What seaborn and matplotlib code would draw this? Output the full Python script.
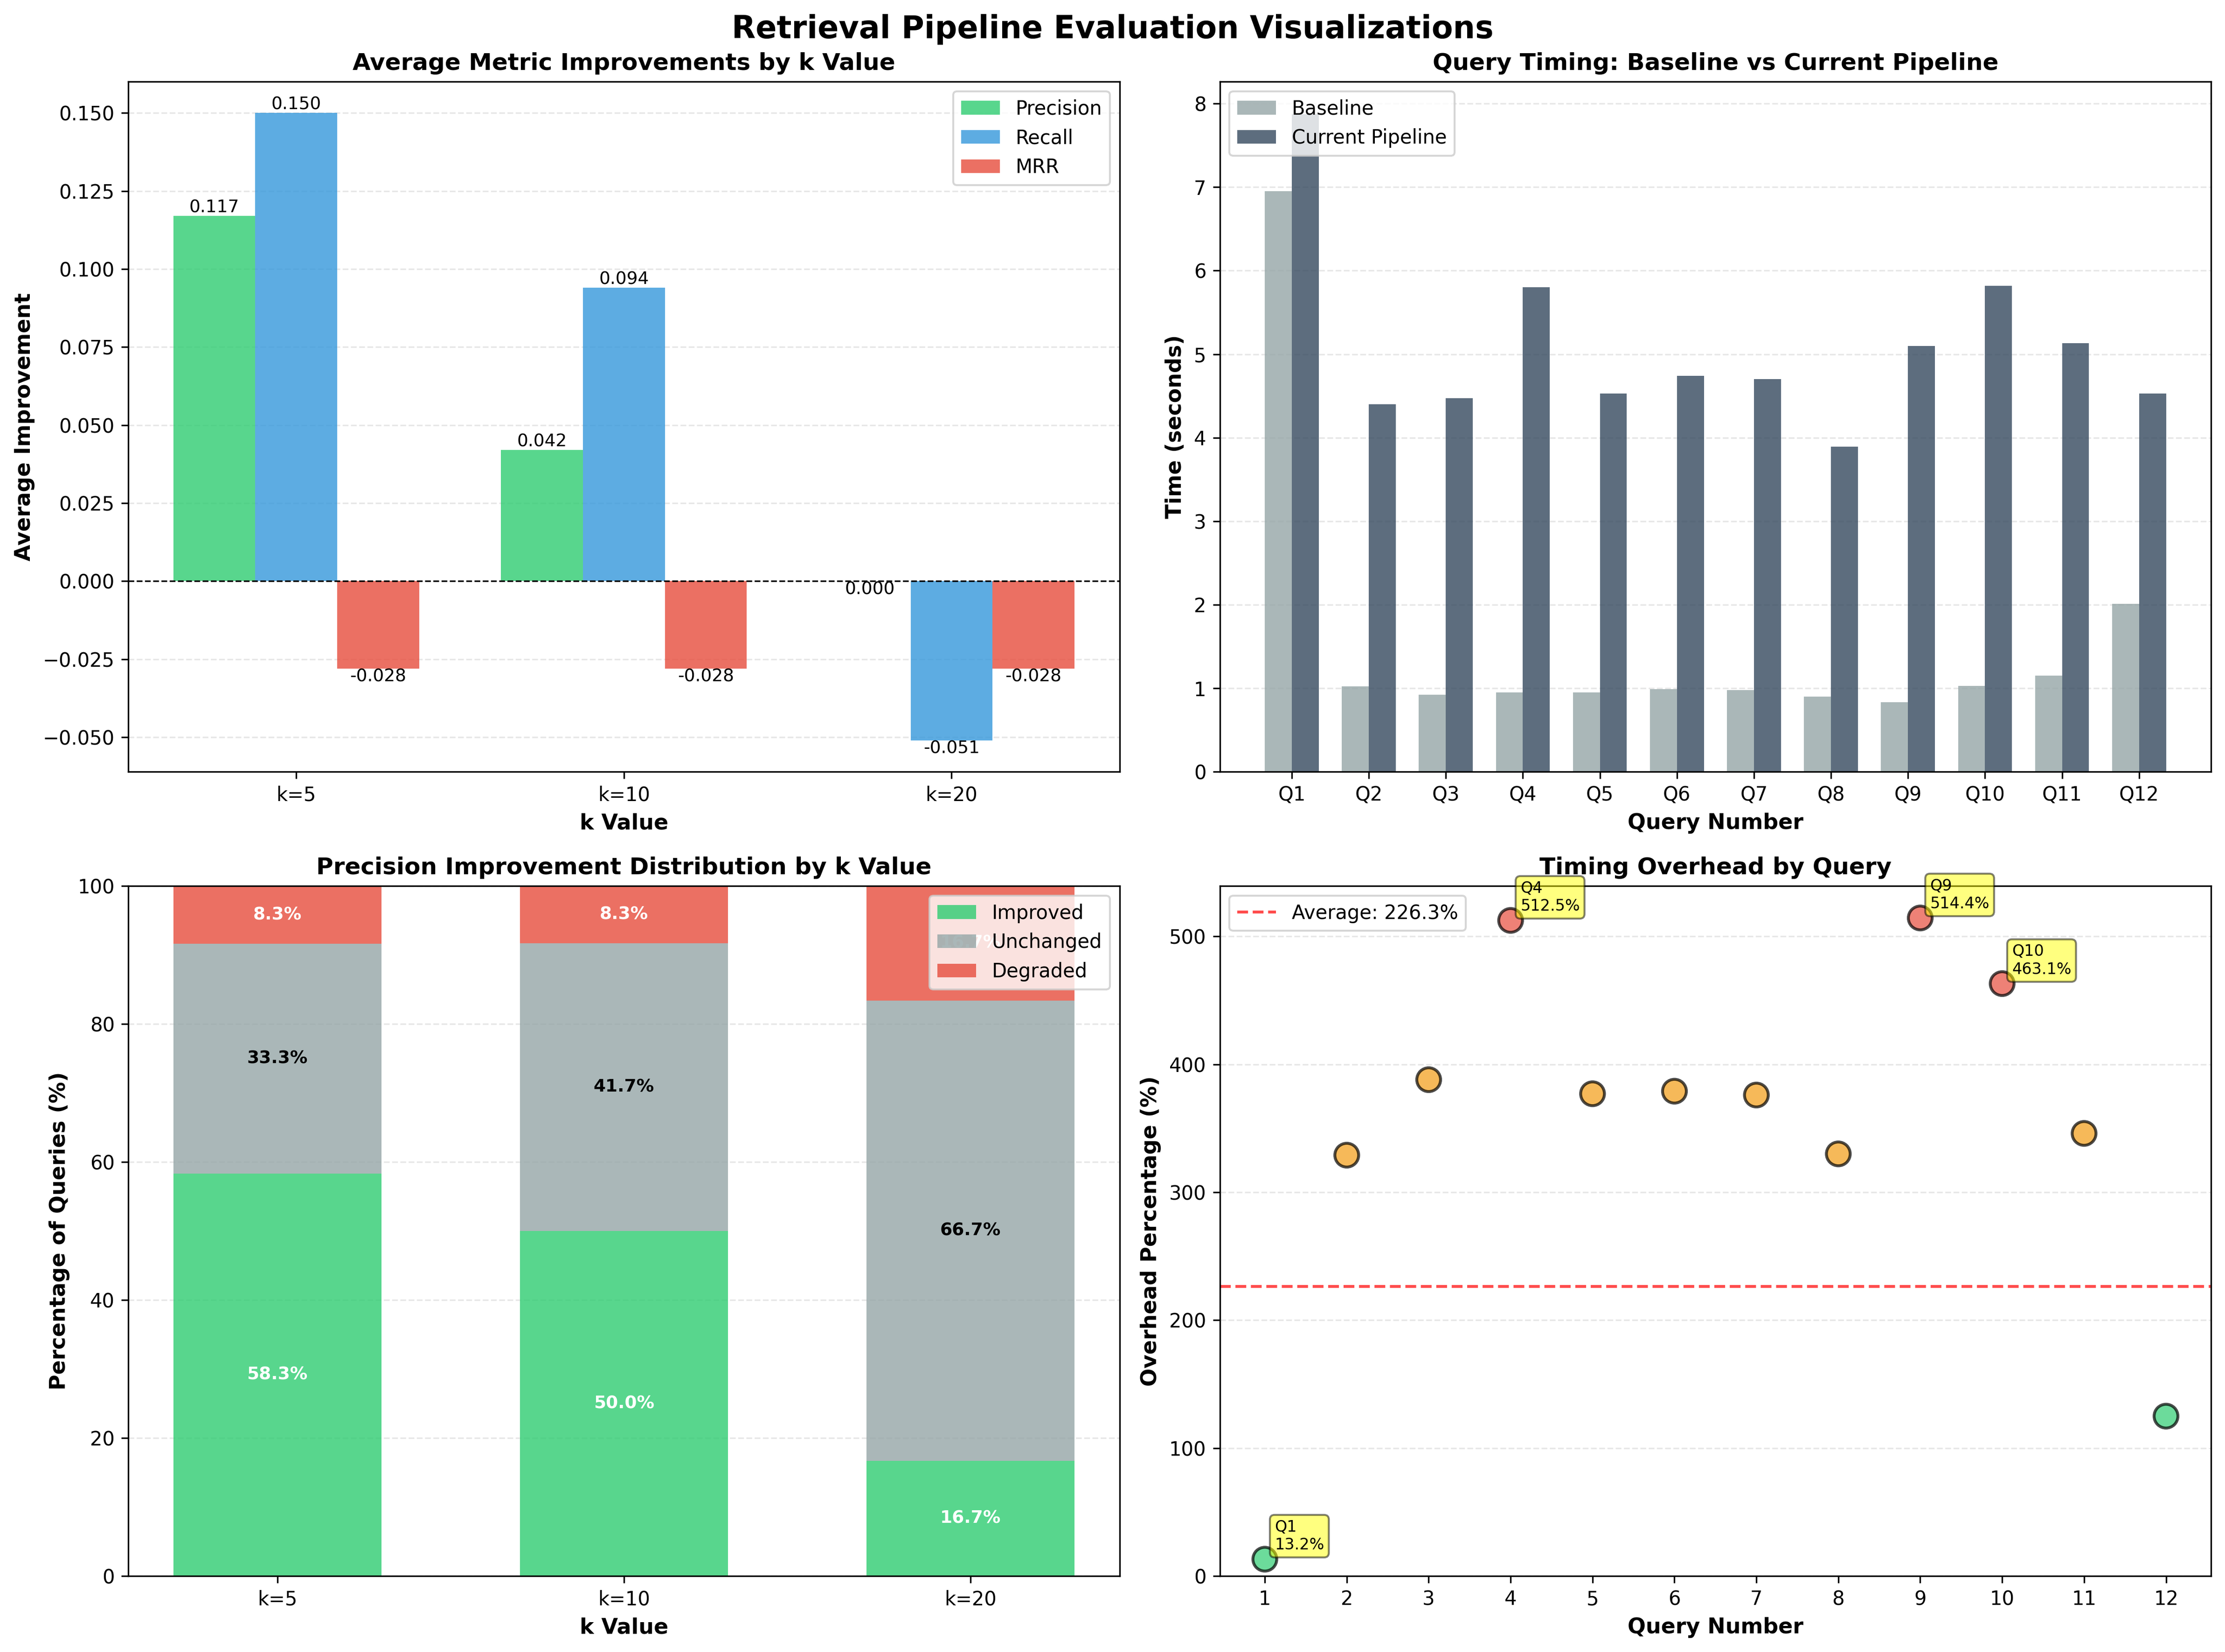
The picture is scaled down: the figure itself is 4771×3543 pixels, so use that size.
import pandas as pd
import seaborn as sns
import matplotlib.pyplot as plt
import numpy as np

# metric improvements per k
k_labels = ['k=5', 'k=10', 'k=20']
precision_imp = [0.117, 0.042, 0.000]
recall_imp = [0.150, 0.094, -0.051]
mrr_imp = [-0.028, -0.028, -0.028]

# query timings (seconds)
queries = ['Q1', 'Q2', 'Q3', 'Q4', 'Q5', 'Q6', 'Q7', 'Q8', 'Q9', 'Q10', 'Q11', 'Q12']
baseline_time = [6.95, 1.02, 0.92, 0.95, 0.95, 0.99, 0.98, 0.90, 0.83, 1.03, 1.15, 2.01]
current_time = [7.87, 4.40, 4.47, 5.80, 4.53, 4.74, 4.70, 3.89, 5.10, 5.82, 5.13, 4.53]

# precision distribution (%)
improved_pct = [58.3, 50.0, 16.7]
unchanged_pct = [33.3, 41.7, 66.7]
degraded_pct = [8.3, 8.3, 16.7]

# overhead per query (%)
query_num = [1, 2, 3, 4, 5, 6, 7, 8, 9, 10, 11, 12]
overhead_pct = [13.2, 329.0, 388.0, 512.5, 377.0, 379.0, 376.0, 330.0, 514.4, 463.1, 346.0, 125.0]
avg_overhead = 226.3

fig, axes = plt.subplots(2, 2, figsize=(16, 12))
fig.suptitle('Retrieval Pipeline Evaluation Visualizations', fontsize=16, fontweight='bold')

# 1 - average metric improvements
ax = axes[0, 0]
df_imp = pd.DataFrame({
    'k': k_labels * 3,
    'metric': ['Precision'] * 3 + ['Recall'] * 3 + ['MRR'] * 3,
    'value': precision_imp + recall_imp + mrr_imp,
})
sns.barplot(data=df_imp, x='k', y='value', hue='metric',
            palette=['#2ecc71', '#3498db', '#e74c3c'], alpha=0.8,
            saturation=1, width=0.75, errorbar=None, ax=ax)
ax.autoscale(enable=True, axis='x')
for cont in ax.containers:
    for bar in cont:
        h = bar.get_height()
        ax.text(bar.get_x() + bar.get_width() / 2, h, f'{h:.3f}',
                ha='center', va='bottom' if h > 0 else 'top', fontsize=9)
ax.axhline(0, color='black', linestyle='--', linewidth=0.8)
ax.set_title('Average Metric Improvements by k Value', fontsize=12, fontweight='bold')
ax.set_xlabel('k Value', fontsize=11, fontweight='bold')
ax.set_ylabel('Average Improvement', fontsize=11, fontweight='bold')
ax.grid(axis='y', alpha=0.3, linestyle='--')
ax.set_axisbelow(True)
sns.move_legend(ax, 'upper right', title=None)

# 2 - query timing
ax = axes[0, 1]
df_time = pd.DataFrame({
    'query': queries * 2,
    'pipeline': ['Baseline'] * 12 + ['Current Pipeline'] * 12,
    'time': baseline_time + current_time,
})
sns.barplot(data=df_time, x='query', y='time', hue='pipeline',
            palette=['#95a5a6', '#34495e'], alpha=0.8,
            saturation=1, width=0.7, errorbar=None, ax=ax)
ax.autoscale(enable=True, axis='x')
ax.set_title('Query Timing: Baseline vs Current Pipeline', fontsize=12, fontweight='bold')
ax.set_xlabel('Query Number', fontsize=11, fontweight='bold')
ax.set_ylabel('Time (seconds)', fontsize=11, fontweight='bold')
ax.grid(axis='y', alpha=0.3, linestyle='--')
ax.set_axisbelow(True)
sns.move_legend(ax, 'upper left', title=None)

# 3 - precision distribution (stacked)
ax = axes[1, 0]
x = np.arange(len(k_labels))
imp = np.array(improved_pct)
unc = np.array(unchanged_pct)
deg = np.array(degraded_pct)
ax.bar(x, imp, 0.6, label='Improved', color='#2ecc71', alpha=0.8)
ax.bar(x, unc, 0.6, bottom=imp, label='Unchanged', color='#95a5a6', alpha=0.8)
ax.bar(x, deg, 0.6, bottom=imp + unc, label='Degraded', color='#e74c3c', alpha=0.8)
for i in range(len(x)):
    ax.text(x[i], imp[i] / 2, f'{imp[i]:.1f}%', ha='center', va='center',
            color='white', fontweight='bold', fontsize=9)
    ax.text(x[i], imp[i] + unc[i] / 2, f'{unc[i]:.1f}%', ha='center', va='center',
            color='black', fontweight='bold', fontsize=9)
    ax.text(x[i], imp[i] + unc[i] + deg[i] / 2, f'{deg[i]:.1f}%', ha='center', va='center',
            color='white', fontweight='bold', fontsize=9)
ax.set_xticks(x)
ax.set_xticklabels(k_labels)
ax.set_ylim(0, 100)
ax.set_title('Precision Improvement Distribution by k Value', fontsize=12, fontweight='bold')
ax.set_xlabel('k Value', fontsize=11, fontweight='bold')
ax.set_ylabel('Percentage of Queries (%)', fontsize=11, fontweight='bold')
ax.legend(loc='upper right')
ax.grid(axis='y', alpha=0.3, linestyle='--')
ax.set_axisbelow(True)

# 4 - overhead scatter
ax = axes[1, 1]
df_over = pd.DataFrame({'query': query_num, 'overhead': overhead_pct})
df_over['level'] = np.where(df_over['overhead'] > 450, 'high',
                            np.where(df_over['overhead'] > 200, 'mid', 'low'))
sns.scatterplot(data=df_over, x='query', y='overhead', hue='level',
                palette={'low': '#2ecc71', 'mid': '#f39c12', 'high': '#e74c3c'},
                s=150, alpha=0.7, edgecolor='black', linewidth=1.5,
                legend=False, ax=ax, zorder=3)
ax.axhline(avg_overhead, color='red', linestyle='--', alpha=0.7,
           label=f'Average: {avg_overhead:.1f}%')
for q, o in zip(query_num, overhead_pct):
    if o > 450 or o < 50:
        ax.annotate(f'Q{q}\n{o:.1f}%', (q, o), xytext=(5, 5), textcoords='offset points',
                    fontsize=8, bbox=dict(boxstyle='round,pad=0.3', facecolor='yellow', alpha=0.5))
ax.set_xticks(query_num)
ax.set_ylim(bottom=0)
ax.set_title('Timing Overhead by Query', fontsize=12, fontweight='bold')
ax.set_xlabel('Query Number', fontsize=11, fontweight='bold')
ax.set_ylabel('Overhead Percentage (%)', fontsize=11, fontweight='bold')
ax.legend(loc='upper left')
ax.grid(axis='y', alpha=0.3, linestyle='--')
ax.set_axisbelow(True)

plt.tight_layout()
fig.savefig('out.png', dpi=300, bbox_inches='tight')
